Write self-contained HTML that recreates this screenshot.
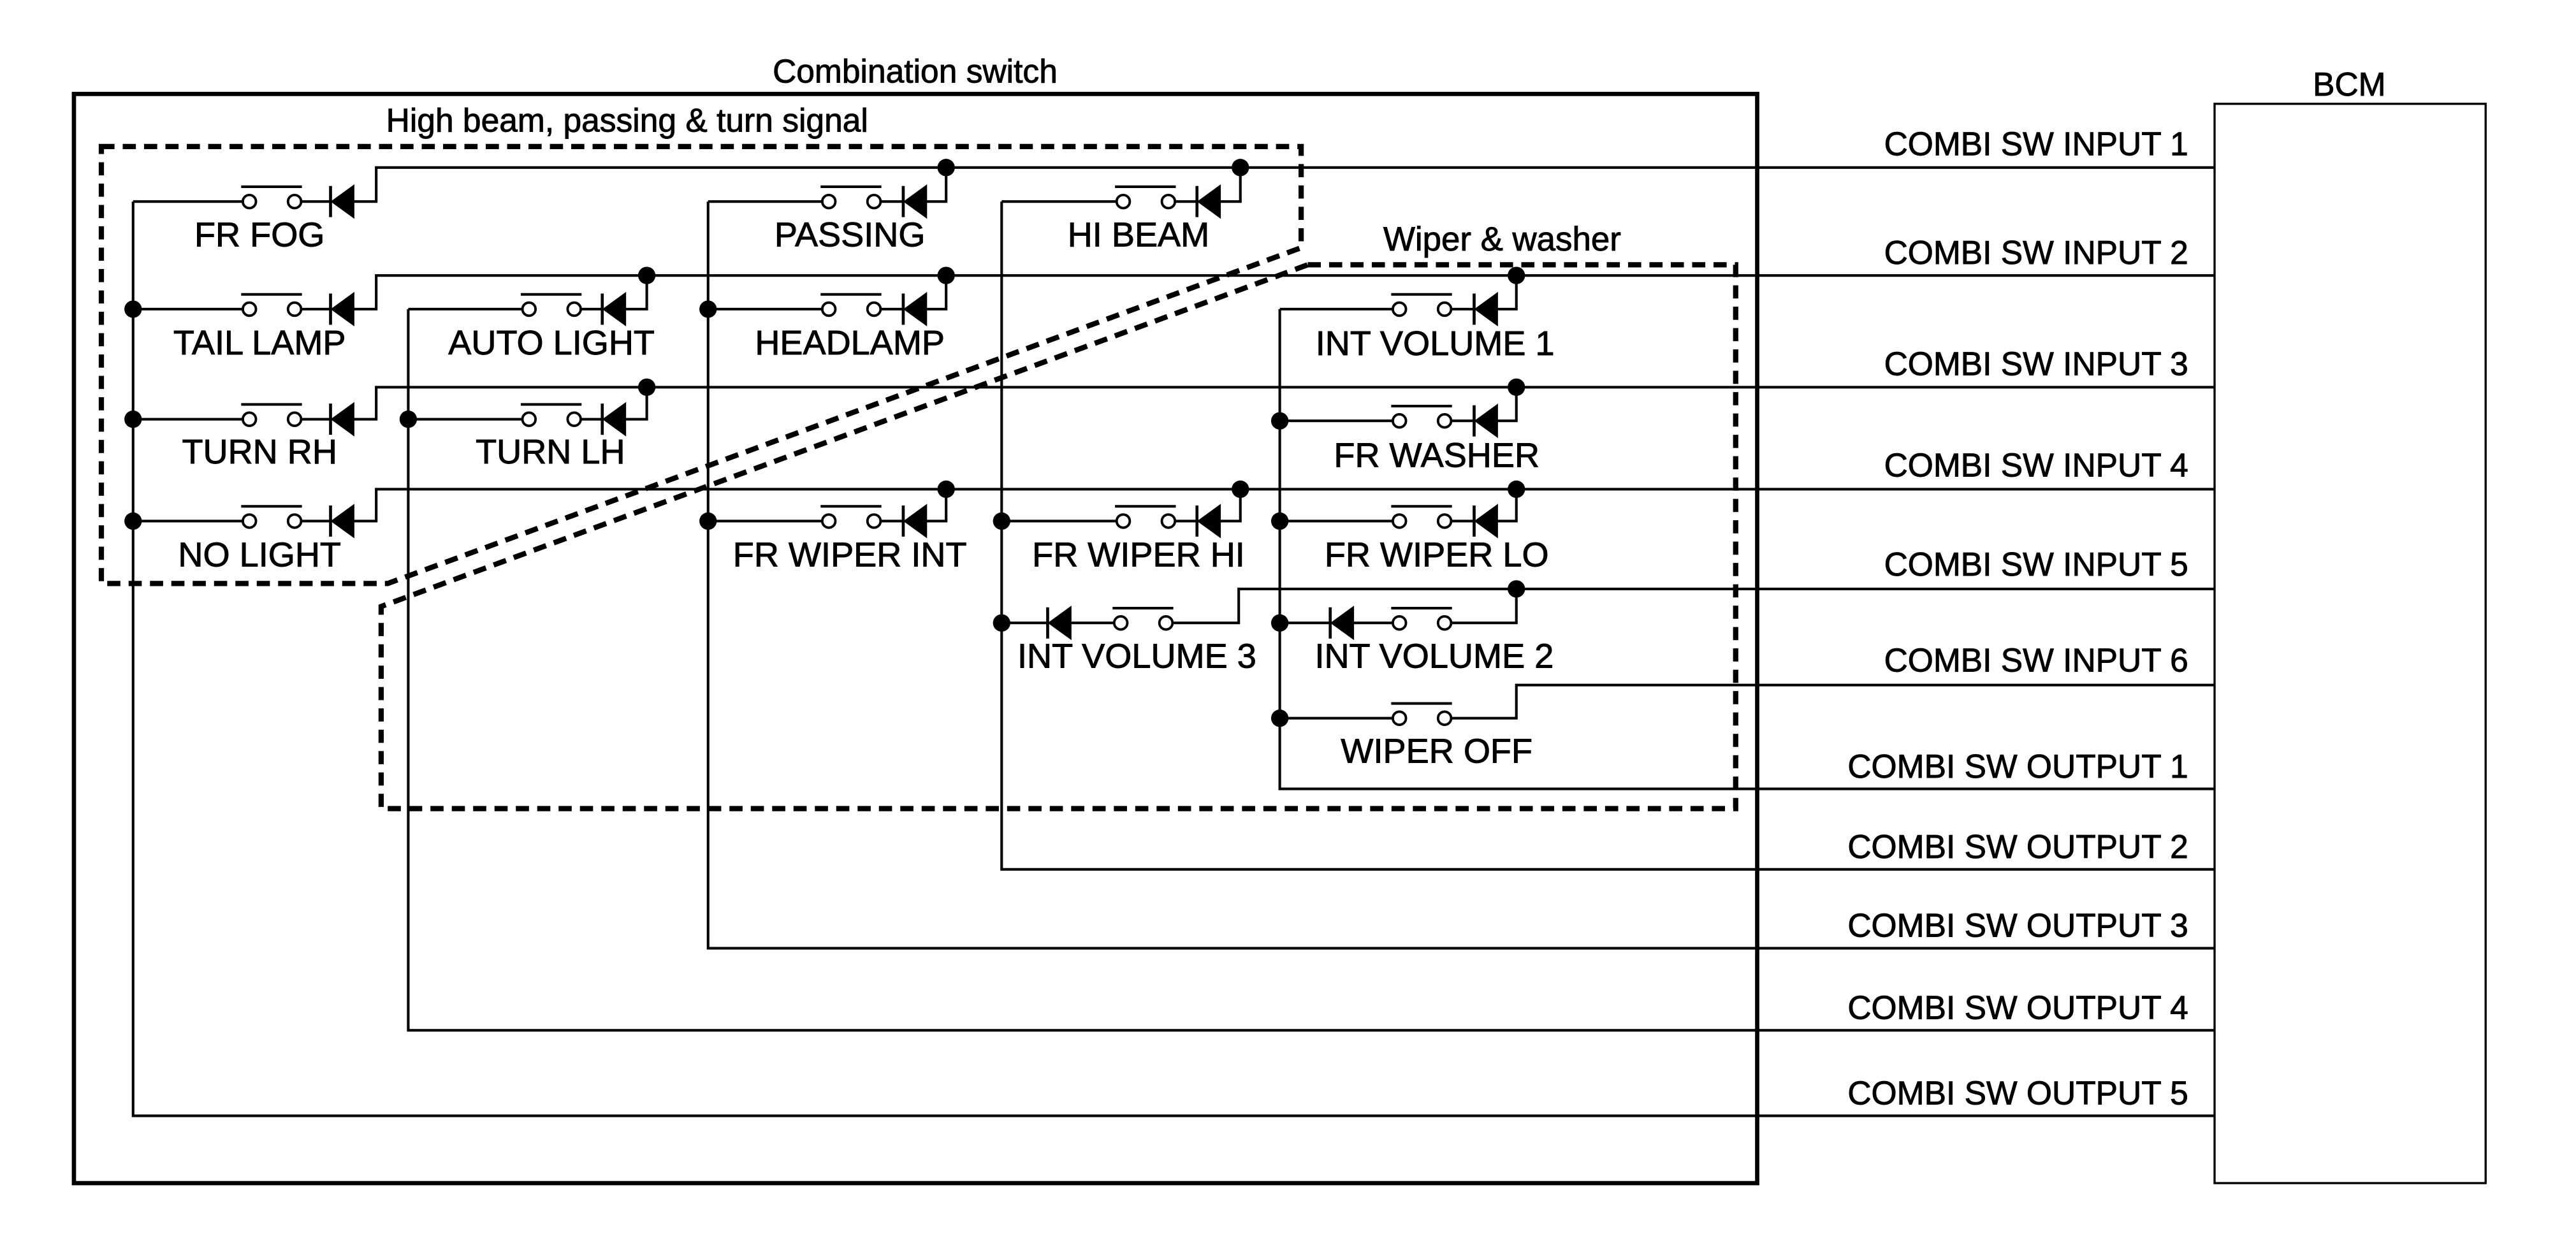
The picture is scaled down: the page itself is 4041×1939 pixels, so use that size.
<!DOCTYPE html>
<html><head><meta charset="utf-8"><style>
html,body{margin:0;padding:0;background:#fff;}
svg{display:block;}
text{font-family:"Liberation Sans",Arial,sans-serif;fill:#000;stroke:#000;stroke-width:0.35;}
</style></head><body>
<svg width="4041" height="1939" viewBox="0 0 1568 752" xmlns="http://www.w3.org/2000/svg">
<defs>
<g id="sw"><line x1="-5" y1="-9" x2="32" y2="-9" stroke="#000" stroke-width="1.6"/><circle cx="0" cy="0" r="4" fill="#fff" stroke="#000" stroke-width="1.5"/><circle cx="27.5" cy="0" r="4" fill="#fff" stroke="#000" stroke-width="1.5"/></g>
<g id="dio"><line x1="0" y1="-9.5" x2="0" y2="9.5" stroke="#000" stroke-width="1.8"/><polygon points="0,0 14.5,-10.5 14.5,10.5" fill="#000"/></g>
</defs>
<rect width="1568" height="752" fill="#fff"/>
<rect x="45" y="57" width="1024.6" height="663" fill="none" stroke="#000" stroke-width="2.6"/>
<rect x="1348" y="63" width="165" height="657" fill="none" stroke="#000" stroke-width="1.3"/>
<text x="557" y="50" font-size="20" text-anchor="middle">Combination switch</text>
<text x="1430" y="58" font-size="20" text-anchor="middle">BCM</text>
<text x="235" y="80" font-size="20">High beam, passing &amp; turn signal</text>
<text x="842" y="152.3" font-size="20.5">Wiper &amp; washer</text>
<g fill="none" stroke="#000" stroke-width="3.2" stroke-dasharray="8,5">
<polygon points="61.7,89 792,89 792,150.6 236,355 61.7,355"/>
<polygon points="796,161 1056.5,161 1056.5,492 232,492 232,369"/>
</g>
<g fill="none" stroke="#000" stroke-width="1.6">
<path d="M81,122.5 V679 H1348"/>
<path d="M81,122.5 H147.8 M183.3,122.5 H201.2 M215.6,122.5 H229 V101.8 H1348"/>
<path d="M81,188 H147.8 M183.3,188 H201.2 M215.6,188 H229 V167.5 H1348"/>
<path d="M81,255 H147.8 M183.3,255 H201.2 M215.6,255 H229 V235.5 H1348"/>
<path d="M81,317 H147.8 M183.3,317 H201.2 M215.6,317 H229 V297.6 H1348"/>
<path d="M248.5,188 V627 H1348"/>
<path d="M248.5,188 H318 M353.5,188 H366.6 M380.7,188 H393.7 V167.5"/>
<path d="M248.5,255 H318 M353.5,255 H366.6 M380.7,255 H393.7 V235.5"/>
<path d="M431,122.5 V577 H1348"/>
<path d="M431,122.5 H500.5 M536,122.5 H549.8 M563.6,122.5 H575.9 V101.8"/>
<path d="M431,188 H500.5 M536,188 H549.8 M563.6,188 H575.9 V167.5"/>
<path d="M431,317 H500.5 M536,317 H549.8 M563.6,317 H575.9 V297.6"/>
<path d="M609.7,122.5 V529 H1348"/>
<path d="M609.7,122.5 H679.7 M715.2,122.5 H728.6 M742,122.5 H755 V101.8"/>
<path d="M609.7,317 H679.7 M715.2,317 H728.6 M742,317 H755 V297.6"/>
<path d="M609.7,379 H637.7 M651.7,379 H678.2 M714.2,379 H754 V358.3 H1348"/>
<path d="M779,188 V480 H1348"/>
<path d="M779,188 H847.8 M883.3,188 H897.3 M911.2,188 H923 V167.5"/>
<path d="M779,256 H847.8 M883.3,256 H897.3 M911.2,256 H923 V235.5"/>
<path d="M779,317 H847.8 M883.3,317 H897.3 M911.2,317 H923 V297.6"/>
<path d="M779,379 H809.7 M823.7,379 H847.8 M883.3,379 H923 V358.3"/>
<path d="M779,437 H847.8 M883.3,437 H923 V416.8 H1348"/>
</g>
<use href="#sw" x="151.8" y="122.5"/><use href="#dio" x="201.2" y="122.5"/>
<use href="#sw" x="151.8" y="188"/><use href="#dio" x="201.2" y="188"/>
<use href="#sw" x="151.8" y="255"/><use href="#dio" x="201.2" y="255"/>
<use href="#sw" x="151.8" y="317"/><use href="#dio" x="201.2" y="317"/>
<use href="#sw" x="322" y="188"/><use href="#dio" x="366.6" y="188"/>
<use href="#sw" x="322" y="255"/><use href="#dio" x="366.6" y="255"/>
<use href="#sw" x="504.5" y="122.5"/><use href="#dio" x="549.8" y="122.5"/>
<use href="#sw" x="504.5" y="188"/><use href="#dio" x="549.8" y="188"/>
<use href="#sw" x="504.5" y="317"/><use href="#dio" x="549.8" y="317"/>
<use href="#sw" x="683.7" y="122.5"/><use href="#dio" x="728.6" y="122.5"/>
<use href="#sw" x="683.7" y="317"/><use href="#dio" x="728.6" y="317"/>
<use href="#sw" x="682.2" y="379"/><use href="#dio" x="637.7" y="379"/>
<use href="#sw" x="851.8" y="188"/><use href="#dio" x="897.3" y="188"/>
<use href="#sw" x="851.8" y="256"/><use href="#dio" x="897.3" y="256"/>
<use href="#sw" x="851.8" y="317"/><use href="#dio" x="897.3" y="317"/>
<use href="#sw" x="851.8" y="379"/><use href="#dio" x="809.7" y="379"/>
<use href="#sw" x="851.8" y="437"/>
<g fill="#000">
<circle cx="81" cy="188" r="5.3"/><circle cx="81" cy="255" r="5.3"/><circle cx="81" cy="317" r="5.3"/>
<circle cx="393.7" cy="167.5" r="5.3"/><circle cx="393.7" cy="235.5" r="5.3"/><circle cx="248.5" cy="255" r="5.3"/>
<circle cx="575.9" cy="101.8" r="5.3"/><circle cx="755" cy="101.8" r="5.3"/>
<circle cx="431" cy="188" r="5.3"/><circle cx="575.9" cy="167.5" r="5.3"/><circle cx="431" cy="317" r="5.3"/>
<circle cx="575.9" cy="297.6" r="5.3"/><circle cx="609.7" cy="317" r="5.3"/><circle cx="755" cy="297.6" r="5.3"/>
<circle cx="609.7" cy="379" r="5.3"/>
<circle cx="923" cy="167.5" r="5.3"/><circle cx="923" cy="235.5" r="5.3"/><circle cx="923" cy="297.6" r="5.3"/>
<circle cx="923" cy="358.3" r="5.3"/>
<circle cx="779" cy="256" r="5.3"/><circle cx="779" cy="317" r="5.3"/><circle cx="779" cy="379" r="5.3"/><circle cx="779" cy="437" r="5.3"/>
</g>
<g font-size="21" text-anchor="middle">
<text x="158" y="149.8">FR FOG</text>
<text x="158" y="215.5">TAIL LAMP</text>
<text x="158" y="282">TURN RH</text>
<text x="158" y="344.5">NO LIGHT</text>
<text x="335.7" y="215.5">AUTO LIGHT</text>
<text x="335" y="282">TURN LH</text>
<text x="517.3" y="149.8">PASSING</text>
<text x="517.3" y="215.5">HEADLAMP</text>
<text x="517.3" y="344.5">FR WIPER INT</text>
<text x="693" y="149.8">HI BEAM</text>
<text x="693" y="344.5">FR WIPER HI</text>
<text x="692" y="406.3">INT VOLUME 3</text>
<text x="873.5" y="216">INT VOLUME 1</text>
<text x="874.5" y="284">FR WASHER</text>
<text x="874.5" y="344.5">FR WIPER LO</text>
<text x="873" y="406.3">INT VOLUME 2</text>
<text x="874.5" y="464">WIPER OFF</text>
</g>
<g font-size="20" text-anchor="end">
<text x="1332" y="94.3">COMBI SW INPUT 1</text>
<text x="1332" y="160.5">COMBI SW INPUT 2</text>
<text x="1332" y="228.2">COMBI SW INPUT 3</text>
<text x="1332" y="289.8">COMBI SW INPUT 4</text>
<text x="1332" y="350.2">COMBI SW INPUT 5</text>
<text x="1332" y="408.5">COMBI SW INPUT 6</text>
<text x="1332" y="473.2">COMBI SW OUTPUT 1</text>
<text x="1332" y="522">COMBI SW OUTPUT 2</text>
<text x="1332" y="570">COMBI SW OUTPUT 3</text>
<text x="1332" y="620">COMBI SW OUTPUT 4</text>
<text x="1332" y="672">COMBI SW OUTPUT 5</text>
</g>
</svg>
</body></html>
